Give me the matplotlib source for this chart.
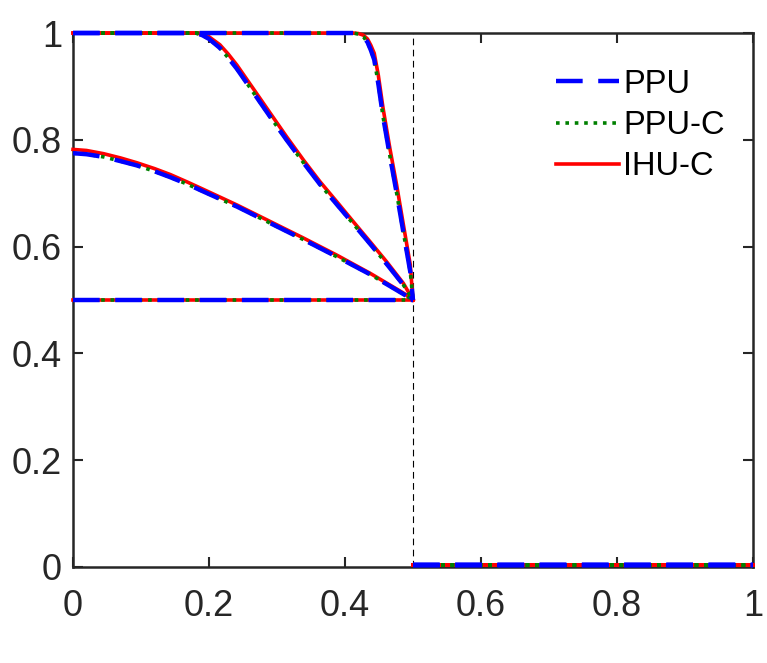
import matplotlib
matplotlib.use("Agg")
import matplotlib.pyplot as plt

plt.rcParams['font.family'] = ['Liberation Sans', 'DejaVu Sans']

# Left part (x in [0, 0.5]) of each profile
# Profile A: flat 0.5
xa = [0.0, 0.5]
ya = [0.5, 0.5]

# Profile B
xb = [0.0, 0.02, 0.045, 0.07, 0.094, 0.12, 0.143, 0.168, 0.192, 0.241, 0.29, 0.339, 0.388, 0.437, 0.486, 0.5]
yb_ihu = [0.782, 0.780, 0.774, 0.766, 0.757, 0.746, 0.735, 0.721, 0.707, 0.678, 0.647, 0.616, 0.584, 0.550, 0.513, 0.500]
yb_ppu = [0.775, 0.773, 0.768, 0.760, 0.752, 0.741, 0.730, 0.717, 0.703, 0.675, 0.644, 0.613, 0.581, 0.548, 0.511, 0.500]

# Profile C
xc = [0.0, 0.18, 0.19, 0.2, 0.216, 0.228, 0.241, 0.265, 0.29, 0.314, 0.339, 0.363, 0.388, 0.412, 0.437, 0.461, 0.486, 0.5]
yc_ihu = [1.0, 1.0, 0.998, 0.993, 0.978, 0.961, 0.940, 0.896, 0.850, 0.806, 0.762, 0.722, 0.684, 0.647, 0.609, 0.572, 0.531, 0.500]
yc_ppu = [1.0, 1.0, 0.996, 0.989, 0.972, 0.954, 0.933, 0.889, 0.843, 0.800, 0.757, 0.717, 0.679, 0.643, 0.605, 0.568, 0.528, 0.500]

# Profile D
xd = [0.0, 0.412, 0.42, 0.427, 0.433, 0.438, 0.443, 0.449, 0.456, 0.466, 0.476, 0.486, 0.496, 0.5]
yd_ihu = [1.0, 1.0, 0.999, 0.996, 0.989, 0.977, 0.962, 0.921, 0.859, 0.784, 0.715, 0.640, 0.566, 0.500]
yd_ppu = [1.0, 1.0, 0.998, 0.993, 0.983, 0.968, 0.950, 0.905, 0.843, 0.770, 0.700, 0.626, 0.553, 0.500]

# Right part (x in [0.5, 1])
xr = [0.5, 1.0]
yr = [0.003, 0.003]

labels = ['PPU', 'PPU-C', 'IHU-C']

fig = plt.figure(figsize=(7.67, 6.63), dpi=100)
ax = fig.add_axes([0.0952, 0.1448, 0.8865, 0.8054])

styles = {
    'IHU-C': dict(color='#ff0000', lw=2.6, ls='-', zorder=3),
    'PPU-C': dict(color='#008000', lw=2.6, ls=(0, (1, 1.6)), zorder=4),
    'PPU': dict(color='#0000ff', lw=3.2, ls=(0, (6, 3.5)), zorder=5),
}

data = {
    'IHU-C': [(xa, ya), (xb, yb_ihu), (xc, yc_ihu), (xd, yd_ihu)],
    'PPU-C': [(xa, ya), (xb, yb_ppu), (xc, yc_ppu), (xd, yd_ppu)],
    'PPU': [(xa, ya), (xb, yb_ppu), (xc, yc_ppu), (xd, yd_ppu)],
}

handles = {}
for name in ['IHU-C', 'PPU-C', 'PPU']:
    st = styles[name]
    for i, (x, y) in enumerate(data[name]):
        ln, = ax.plot(x, y, clip_on=False, solid_joinstyle='round', **st)
        if i == 0:
            handles[name] = ln
        ax.plot(xr, yr, clip_on=False, **st)

ax.plot([0.5, 0.5], [0, 1], color='black', lw=0.8, ls=(0, (6, 4)), zorder=2)

ax.set_xlim(0, 1)
ax.set_ylim(0, 1)
ticks = [0, 0.2, 0.4, 0.6, 0.8, 1]
ticklabels = ['0', '0.2', '0.4', '0.6', '0.8', '1']
ax.set_xticks(ticks)
ax.set_xticklabels(ticklabels)
ax.set_yticks(ticks)
ax.set_yticklabels(ticklabels)
ax.tick_params(direction='in', length=7, width=1.5, labelsize=26, colors='#262626',
               top=True, right=True)
ax.tick_params(axis='x', pad=16)
ax.tick_params(axis='y', pad=8)
for s in ax.spines.values():
    s.set_linewidth(1.8)
    s.set_color('#262626')

leg = ax.legend([handles[l] for l in labels], labels, loc='upper right', frameon=False,
                fontsize=23.5, handlelength=1.95, handletextpad=0.12,
                bbox_to_anchor=(0.978, 0.958), labelspacing=0.32, borderaxespad=0)

fig.savefig('out.png', dpi=100)
